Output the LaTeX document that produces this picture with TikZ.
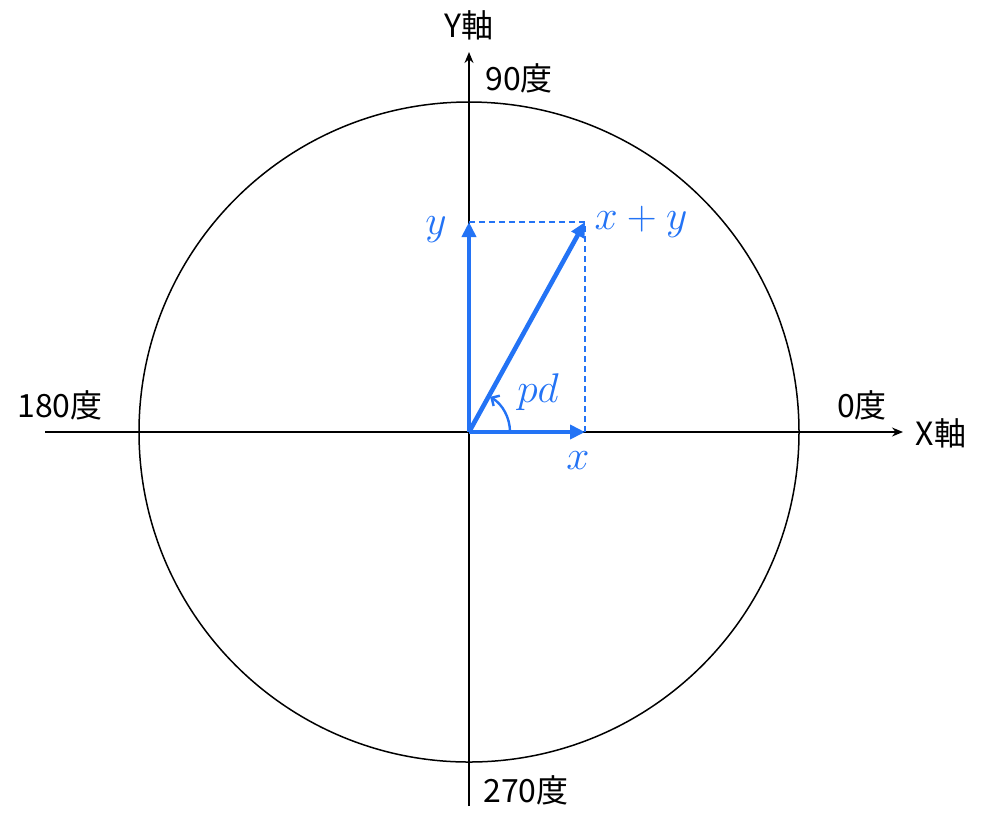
\documentclass[tikz,border=0pt]{standalone}
\usepackage{fontspec}
\setmainfont{Noto Sans CJK JP}
\usetikzlibrary{arrows.meta}
\definecolor{vblue}{RGB}{35,115,245}
\tikzset{
  axis/.style={line width=0.75pt,-{Stealth[length=5.5pt,width=4.5pt]}},
  vec/.style={vblue,line width=2.3pt,-{Triangle[length=7.5pt,width=7pt]}},
  guide/.style={vblue,line width=0.7pt,dash pattern=on 3pt off 2pt},
  lbl/.style={font=\fontsize{16}{19}\selectfont,inner sep=0pt},
  mlbl/.style={vblue,font=\fontsize{22}{26}\selectfont,inner sep=0pt},
}
\begin{document}
\begin{tikzpicture}[x=0.5pt,y=-0.5pt]
\useasboundingbox (0,0) rectangle (1000,821);
\coordinate (O) at (469,432);
\coordinate (XL) at (45,432);
\coordinate (XR) at (903,432);
\coordinate (YB) at (469,806);
\coordinate (YT) at (469,52);
\coordinate (VX) at (585,432);
\coordinate (VY) at (469,222);
\coordinate (VS) at (585,222);
% circle
\draw[line width=0.75pt] (O) circle[radius=330];
% axes
\draw[axis] (XL) -- (XR);
\draw[axis] (YB) -- (YT);
% guides
\draw[guide] (VY) -- (VS) -- (VX);
% vectors
\draw[vec] (O) -- (VX);
\draw[vec] (O) -- (VY);
\draw[vec] (O) -- (VS);
% angle arc
\draw[vblue,line width=1.2pt,-{Straight Barb[length=3pt,width=6pt]}] ([xshift=20.5pt]O) arc[start angle=0,end angle=-59,radius=41];
% labels
\node[lbl] (ly) at (469,25) {Y軸};
\node[lbl] (l90) at (519,78) {90度};
\node[lbl] (l180) at (60,405) {180度};
\node[lbl] (l0) at (862,405) {0度};
\node[lbl] (lx) at (941,433) {X軸};
\node[lbl] (l270) at (526,790) {270度};
\node[mlbl] (mx) at (578,461) {$x$};
\node[mlbl] (my) at (436,230) {$y$};
\node[mlbl] (mxy) at (641,222) {$x+y$};
\node[mlbl] (mpd) at (538,392) {$pd$};
\end{tikzpicture}
\end{document}
